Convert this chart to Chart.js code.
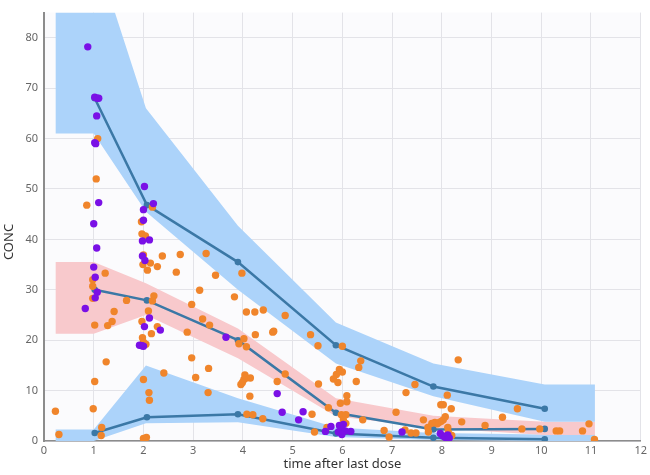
<!DOCTYPE html>
<html>
<head>
<meta charset="utf-8">
<script src="https://cdn.jsdelivr.net/npm/chart.js@4.4.1/dist/chart.umd.min.js"></script>
<style>
  html, body { margin: 0; padding: 0; background: #fff; }
  #wrap { width: 650px; height: 475px; }
</style>
</head>
<body>
<div id="wrap"><canvas id="vpc"></canvas></div>
<script>
// bin positions (time after last dose)
const binX = [0.23, 1.0, 2.05, 3.9, 5.87, 7.83, 10.07, 11.08];

// simulated prediction intervals (bands)
const upperHi = [98, 98, 66, 42.7, 23.5, 15.4, 11.2, 11.2];
const upperLo = [61, 61, 45.5, 30, 15.4, 8.9, 3.8, 3.8];
const medHi = [35.5, 35.5, 31.3, 22.3, 8.5, 5.0, 3.8, 3.8];
const medLo = [21.3, 21.3, 25, 16.4, 4.9, 2.6, 1.2, 1.2];
const lowHi = [2.3, 2.3, 15, 8.5, 2.7, 1.6, 1.3, 1.3];
const lowLo = [0, 0, 3.5, 3.7, 0.8, 0.2, 0, 0];

// observed percentiles
const obsX = [1.02, 2.07, 3.9, 5.87, 7.83, 10.07];
const obsUpper = [68, 46.8, 35.5, 19, 10.8, 6.4];
const obsMedian = [30, 27.9, 20, 5.6, 2.3, 2.4];
const obsLower = [1.6, 4.7, 5.3, 1.5, 0.65, 0.35];

// observations [time, conc]
const purplePts = [
  [0.88, 78.2], [1.02, 68.2], [1.07, 68.0], [1.1, 68.0], [1.06, 64.5], [1.02, 59.2], [1.04, 59.0],
  [1.1, 47.3], [1.0, 43.1], [1.06, 38.3], [1.0, 34.5], [1.03, 32.5], [1.07, 29.5], [1.03, 28.4],
  [0.83, 26.3], [2.02, 50.5], [2.2, 47.1], [2.0, 45.9], [2.0, 43.8], [1.98, 39.7], [2.12, 39.9],
  [1.98, 36.7], [2.03, 35.8], [2.12, 24.4], [2.02, 22.7], [2.34, 22.0], [1.92, 19.0], [1.97, 18.9],
  [2.0, 18.8], [3.66, 20.6], [4.69, 9.4], [4.79, 5.7], [5.21, 5.8], [5.12, 4.2], [5.77, 2.9],
  [5.66, 1.9], [5.94, 3.1], [6.02, 3.3], [5.99, 2.4], [5.92, 1.8], [6.06, 2.0], [5.99, 1.3],
  [6.17, 1.9], [7.2, 1.8], [7.97, 1.5], [8.02, 1.0], [8.07, 0.7], [8.12, 1.2], [8.15, 0.6]
];
const orangePts = [
  [0.23, 5.9], [0.3, 1.3],
  [1.08, 60.0], [1.05, 52.0], [0.86, 46.8], [1.23, 33.3], [0.98, 32.0], [0.98, 30.7], [0.98, 28.3],
  [1.02, 23.0], [1.28, 22.9], [1.37, 23.7], [1.41, 25.7], [1.66, 27.9], [1.25, 15.7], [1.02, 11.8],
  [0.99, 6.4], [1.16, 2.7], [1.15, 1.1],
  [2.18, 46.4], [1.96, 43.5], [1.97, 41.1], [2.04, 40.7], [2.0, 36.9], [1.99, 35.0], [2.14, 35.3],
  [2.08, 33.9], [2.28, 34.6], [2.38, 36.7], [2.74, 37.0], [2.66, 33.5], [2.21, 28.8], [2.18, 27.8],
  [2.1, 25.8], [1.97, 23.7], [2.28, 22.7], [2.16, 21.3], [1.98, 20.5], [2.0, 19.6], [2.05, 19.2],
  [2.41, 13.5], [2.0, 12.2], [2.11, 9.6], [2.12, 8.1], [2.0, 0.5], [2.06, 0.7],
  [3.26, 37.2], [3.98, 33.3], [3.45, 32.9], [3.13, 29.9], [3.83, 28.6], [2.97, 27.1], [4.07, 25.6],
  [4.24, 25.6], [4.41, 26.0], [4.85, 24.9], [3.19, 24.2], [3.33, 23.0], [2.88, 21.6], [4.6, 21.6],
  [4.62, 21.8], [4.02, 20.3], [3.92, 19.3], [4.07, 18.7], [4.25, 21.1], [2.97, 16.5], [3.31, 14.4],
  [3.05, 12.6], [4.04, 13.1], [4.07, 12.5], [4.15, 12.5], [4.02, 12.2], [3.96, 11.2], [3.99, 11.6],
  [4.69, 11.8], [4.85, 13.3], [3.3, 9.6], [4.14, 8.9], [4.08, 5.3], [4.2, 5.2], [4.4, 4.4],
  [5.36, 21.1], [5.51, 18.9], [6.0, 18.8], [6.37, 15.9], [6.33, 14.6], [5.94, 14.2], [6.0, 13.7],
  [5.88, 13.2], [5.82, 12.3], [5.91, 11.6], [6.28, 11.8], [5.52, 11.3], [6.09, 9.0], [6.09, 7.8],
  [5.96, 7.5], [5.72, 6.6], [5.98, 5.2], [6.07, 5.2], [6.02, 4.2], [6.07, 3.5], [6.41, 4.2],
  [5.39, 5.3], [5.44, 1.8], [5.69, 2.7], [7.08, 5.7], [7.28, 9.6], [7.46, 11.2], [6.84, 2.1],
  [6.94, 0.8], [7.26, 2.2], [7.38, 1.6], [7.48, 1.6],
  [8.33, 16.1], [8.11, 9.1], [7.98, 7.2], [8.03, 7.2], [8.19, 6.4], [7.63, 4.2], [8.4, 3.8],
  [8.07, 4.8], [8.03, 4.2], [7.99, 3.9], [7.91, 3.4], [7.95, 3.7], [7.72, 2.7], [7.73, 1.8],
  [8.12, 2.7], [8.13, 1.8], [8.2, 1.1], [8.87, 3.1], [9.22, 4.7], [9.52, 6.4], [9.61, 2.4],
  [9.97, 2.4], [10.3, 2.0], [10.37, 2.0], [10.83, 2.0], [10.96, 3.4], [11.07, 0.3], [7.86, 3.7],
  [7.8, 3.5]
];

const blueBand = '#acd3fa';
const pinkBand = '#f8c9cc';
const lineColor = '#3b78a6';

function xy(xs, ys) {
  return xs.map((x, i) => ({ x: x, y: ys[i] }));
}
function pts(list) {
  return list.map(p => ({ x: p[0], y: p[1] }));
}
function band(hi, lo, color) {
  return [
    { type: 'line', data: xy(binX, hi), fill: '+1', backgroundColor: color, borderWidth: 0, pointRadius: 0, order: 3 },
    { type: 'line', data: xy(binX, lo), fill: false, borderWidth: 0, pointRadius: 0, order: 3 }
  ];
}
function obsLine(ys) {
  return {
    type: 'line', data: xy(obsX, ys), borderColor: lineColor, borderWidth: 2.5,
    pointRadius: 3.3, pointBackgroundColor: lineColor, pointBorderWidth: 0, fill: false, order: 1
  };
}

// plot background + rotated y title
const decor = {
  id: 'decor',
  beforeDraw(chart) {
    const { ctx, chartArea: a } = chart;
    ctx.save();
    ctx.fillStyle = '#fbfbfd';
    ctx.fillRect(a.left, a.top, a.right - a.left, a.bottom - a.top);
    ctx.restore();
  },
  afterDraw(chart) {
    const ctx = chart.ctx;
    ctx.save();
    ctx.translate(9, 242);
    ctx.rotate(-Math.PI / 2);
    ctx.font = '13px "Noto Sans"';
    ctx.fillStyle = '#333';
    ctx.textAlign = 'center';
    ctx.textBaseline = 'middle';
    ctx.fillText('CONC', 0, 0);
    ctx.restore();
  }
};

const datasets = [
  { type: 'scatter', data: pts(purplePts), backgroundColor: '#7a10e6', pointRadius: 3.7, borderWidth: 0, order: 0 },
  { type: 'scatter', data: pts(orangePts), backgroundColor: '#f0852b', pointRadius: 3.7, borderWidth: 0, order: 0 },
  obsLine(obsUpper),
  obsLine(obsMedian),
  obsLine(obsLower),
  ...band(upperHi, upperLo, blueBand),
  ...band(medHi, medLo, pinkBand),
  ...band(lowHi, lowLo, blueBand)
];

new Chart(document.getElementById('vpc'), {
  type: 'line',
  data: { datasets: datasets },
  plugins: [decor],
  options: {
    responsive: true,
    maintainAspectRatio: false,
    animation: false,
    layout: { padding: { top: 5, right: 9, left: 0, bottom: 0 } },
    plugins: { legend: { display: false }, tooltip: { enabled: false } },
    scales: {
      x: {
        type: 'linear', min: 0, max: 12,
        ticks: { stepSize: 1, color: '#666', font: { family: 'Noto Sans', size: 11 }, padding: 3, maxRotation: 0 },
        grid: { color: '#e3e3e8', drawTicks: false },
        border: { color: '#8c8c8c', width: 1.5 },
        title: { display: true, text: 'time after last dose', color: '#333', font: { family: 'Noto Sans', size: 13 }, padding: { top: 0, bottom: 3 } },
        afterFit(s) { s.height = 34; }
      },
      y: {
        type: 'linear', min: 0, max: 85,
        ticks: { stepSize: 10, color: '#666', font: { family: 'Noto Sans', size: 11 }, padding: 6 },
        afterBuildTicks(s) { s.ticks = s.ticks.filter(t => t.value <= 80); },
        grid: { color: '#e3e3e8', drawTicks: false },
        border: { color: '#8c8c8c', width: 2 },
        afterFit(s) { s.width = 44; }
      }
    }
  }
});
</script>
</body>
</html>
